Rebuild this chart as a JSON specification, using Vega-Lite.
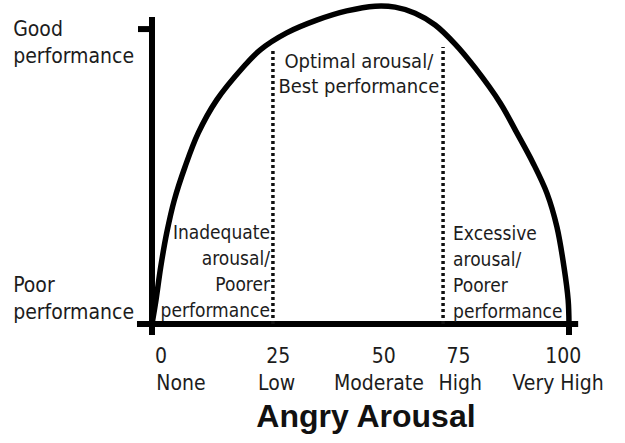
{
  "$schema": "https://vega.github.io/schema/vega-lite/v6.json",
  "width": 625,
  "height": 443,
  "padding": 0,
  "autosize": {"type": "none"},
  "config": {"view": {"stroke": null}},
  "datasets": {
    "curve": [
      {"i": 0, "arousal": 0, "performance": 0},
      {"i": 1, "arousal": 0.96, "performance": 7.54},
      {"i": 2, "arousal": 2.09, "performance": 17.9},
      {"i": 3, "arousal": 3.53, "performance": 28.6},
      {"i": 4, "arousal": 5.35, "performance": 38.9},
      {"i": 5, "arousal": 7.91, "performance": 49.3},
      {"i": 6, "arousal": 11.1, "performance": 60.0},
      {"i": 7, "arousal": 15.5, "performance": 70.3},
      {"i": 8, "arousal": 21.9, "performance": 80.7},
      {"i": 9, "arousal": 25.9, "performance": 86.0},
      {"i": 10, "arousal": 32.3, "performance": 91.4},
      {"i": 11, "arousal": 39.5, "performance": 95.4},
      {"i": 12, "arousal": 46.7, "performance": 98.3},
      {"i": 13, "arousal": 53.5, "performance": 99.8},
      {"i": 14, "arousal": 58.3, "performance": 99.5},
      {"i": 15, "arousal": 63.1, "performance": 97.6},
      {"i": 16, "arousal": 67.9, "performance": 93.9},
      {"i": 17, "arousal": 72.7, "performance": 87.9},
      {"i": 18, "arousal": 77.5, "performance": 80.4},
      {"i": 19, "arousal": 83.5, "performance": 69.4},
      {"i": 20, "arousal": 87.5, "performance": 60.0},
      {"i": 21, "arousal": 91.4, "performance": 50.5},
      {"i": 22, "arousal": 94.7, "performance": 41.1},
      {"i": 23, "arousal": 97.1, "performance": 30.5},
      {"i": 24, "arousal": 98.8, "performance": 17.9},
      {"i": 25, "arousal": 99.8, "performance": 7.5},
      {"i": 26, "arousal": 100, "performance": 0}
    ],
    "axes": [
      {"x": 0, "x2": 0, "y": -3.45, "y2": 96.4},
      {"x": -3.6, "x2": 102.2, "y": 0, "y2": 0},
      {"x": -3.36, "x2": 0, "y": 92.6, "y2": 92.6},
      {"x": 100, "x2": 100, "y": 0, "y2": -3.45}
    ],
    "zones": [
      {"x": 29.0, "x2": 29.0, "y": 0, "y2": 86.0},
      {"x": 69.8, "x2": 69.8, "y": 0, "y2": 87.0}
    ],
    "sideText": [
      {"x": -33.3, "y": 90.4, "label": "Good\nperformance"},
      {"x": -33.3, "y": 10.0, "label": "Poor\nperformance"}
    ],
    "leftText": [
      {"x": 72.2, "y": 26.4, "label": "Excessive\narousal/\nPoorer\nperformance"}
    ],
    "rightText": [
      {"x": 28.3, "y": 26.7, "label": "Inadequate\narousal/\nPoorer\nperformance"}
    ],
    "centerText": [
      {"x": 49.6, "y": 80.4, "label": "Optimal arousal/\nBest performance"}
    ],
    "ticks": [
      {"x": 2.16, "y": -12.2, "label": "0"},
      {"x": 6.95, "y": -20.7, "label": "None"},
      {"x": 30.3, "y": -12.2, "label": "25"},
      {"x": 29.9, "y": -20.7, "label": "Low"},
      {"x": 55.6, "y": -12.2, "label": "50"},
      {"x": 54.4, "y": -20.7, "label": "Moderate"},
      {"x": 73.5, "y": -12.2, "label": "75"},
      {"x": 73.9, "y": -20.7, "label": "High"},
      {"x": 98.6, "y": -12.2, "label": "100"},
      {"x": 97.4, "y": -20.7, "label": "Very High"}
    ],
    "title": [
      {"x": 51.3, "y": -32.3, "label": "Angry Arousal"}
    ]
  },
  "layer": [
    {
      "data": {"name": "axes"},
      "mark": {"type": "rule", "color": "#000", "strokeWidth": 6, "strokeCap": "butt"},
      "encoding": {
        "x": {"field": "x", "type": "quantitative", "scale": {"domain": [-36.45, 113.43], "nice": false, "zero": false}, "axis": null},
        "x2": {"field": "x2"},
        "y": {"field": "y", "type": "quantitative", "scale": {"domain": [-37.36, 101.73], "nice": false, "zero": false}, "axis": null},
        "y2": {"field": "y2"}
      }
    },
    {
      "data": {"name": "zones"},
      "mark": {"type": "rule", "color": "#111", "strokeWidth": 3.5, "strokeDash": [3, 3]},
      "encoding": {
        "x": {"field": "x", "type": "quantitative"},
        "x2": {"field": "x2"},
        "y": {"field": "y", "type": "quantitative"},
        "y2": {"field": "y2"}
      }
    },
    {
      "data": {"name": "curve"},
      "mark": {"type": "line", "color": "#000", "strokeWidth": 5.5, "interpolate": "catmull-rom", "clip": false},
      "encoding": {
        "x": {"field": "arousal", "type": "quantitative"},
        "y": {"field": "performance", "type": "quantitative"},
        "order": {"field": "i", "type": "quantitative"}
      }
    },
    {
      "data": {"name": "sideText"},
      "mark": {"type": "text", "align": "left", "baseline": "alphabetic", "lineBreak": "\n", "font": "DejaVu Sans Condensed, sans-serif", "fontSize": 21, "lineHeight": 26.5, "color": "#1c1c1c"},
      "encoding": {
        "x": {"field": "x", "type": "quantitative"},
        "y": {"field": "y", "type": "quantitative"},
        "text": {"field": "label", "type": "nominal"}
      }
    },
    {
      "data": {"name": "leftText"},
      "mark": {"type": "text", "align": "left", "baseline": "alphabetic", "lineBreak": "\n", "font": "DejaVu Sans Condensed, sans-serif", "fontSize": 19, "lineHeight": 26, "color": "#1c1c1c"},
      "encoding": {
        "x": {"field": "x", "type": "quantitative"},
        "y": {"field": "y", "type": "quantitative"},
        "text": {"field": "label", "type": "nominal"}
      }
    },
    {
      "data": {"name": "rightText"},
      "mark": {"type": "text", "align": "right", "baseline": "alphabetic", "lineBreak": "\n", "font": "DejaVu Sans Condensed, sans-serif", "fontSize": 19, "lineHeight": 26, "color": "#1c1c1c"},
      "encoding": {
        "x": {"field": "x", "type": "quantitative"},
        "y": {"field": "y", "type": "quantitative"},
        "text": {"field": "label", "type": "nominal"}
      }
    },
    {
      "data": {"name": "centerText"},
      "mark": {"type": "text", "align": "center", "baseline": "alphabetic", "lineBreak": "\n", "font": "DejaVu Sans Condensed, sans-serif", "fontSize": 20, "lineHeight": 25, "color": "#1c1c1c"},
      "encoding": {
        "x": {"field": "x", "type": "quantitative"},
        "y": {"field": "y", "type": "quantitative"},
        "text": {"field": "label", "type": "nominal"}
      }
    },
    {
      "data": {"name": "ticks"},
      "mark": {"type": "text", "align": "center", "baseline": "alphabetic", "font": "DejaVu Sans Condensed, sans-serif", "fontSize": 21, "color": "#1c1c1c"},
      "encoding": {
        "x": {"field": "x", "type": "quantitative"},
        "y": {"field": "y", "type": "quantitative"},
        "text": {"field": "label", "type": "nominal"}
      }
    },
    {
      "data": {"name": "title"},
      "mark": {"type": "text", "align": "center", "baseline": "alphabetic", "font": "Liberation Sans, Arial, sans-serif", "fontWeight": "bold", "fontSize": 32, "color": "#111"},
      "encoding": {
        "x": {"field": "x", "type": "quantitative"},
        "y": {"field": "y", "type": "quantitative"},
        "text": {"field": "label", "type": "nominal"}
      }
    }
  ]
}
